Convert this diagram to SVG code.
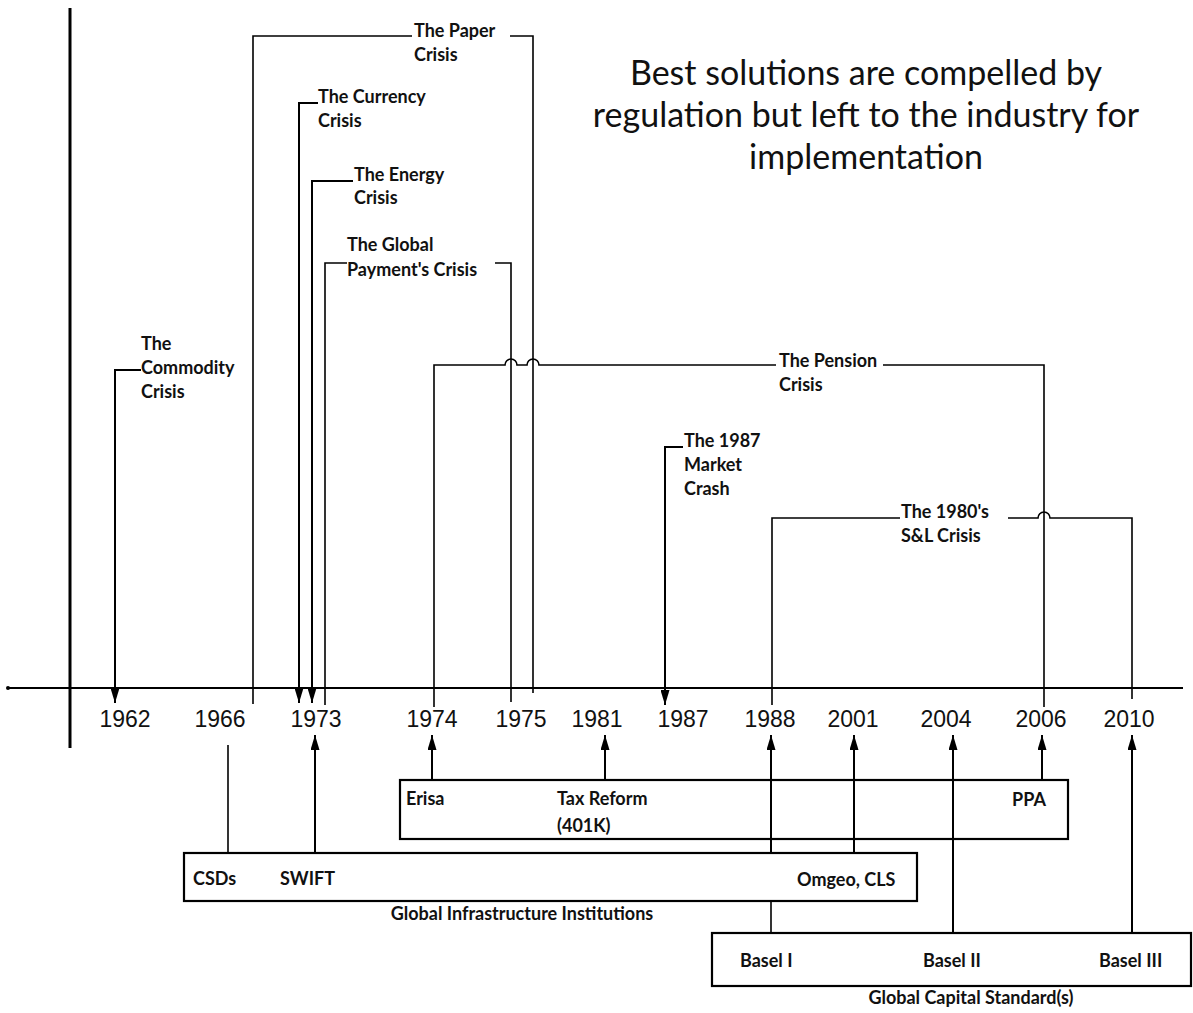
<svg xmlns="http://www.w3.org/2000/svg" width="1193" height="1013" viewBox="0 0 1193 1013">
<defs>
<marker id="ah" viewBox="0 0 15 9" markerWidth="15" markerHeight="9" refX="15" refY="4.5" orient="auto" markerUnits="userSpaceOnUse"><path d="M0,0 L15,4.5 L0,9 z" fill="#000"/></marker>
</defs>
<style>
.lbl{font-family:Lato,"Noto Sans","Liberation Sans",sans-serif;font-weight:bold;font-size:18px;fill:#111}
.cap{font-family:Lato,"Noto Sans","Liberation Sans",sans-serif;font-weight:bold;font-size:18px;fill:#111;text-anchor:middle}
.yr{font-family:"Liberation Sans",Arial,sans-serif;font-size:23px;fill:#111;text-anchor:middle}
.ttl{font-family:Lato,"Noto Sans","Liberation Sans",sans-serif;font-size:34px;fill:#111;text-anchor:middle}
.ln{stroke:#000;stroke-width:1.6;fill:none}
.ar{stroke:#000;stroke-width:2;fill:none;marker-end:url(#ah)}
.box{fill:none;stroke:#000;stroke-width:2.2}
</style>
<rect width="1193" height="1013" fill="#fff"/>

<g id="title">
<text class="ttl" x="866" y="85">Best solutions are compelled by</text>
<text class="ttl" x="866" y="127">regulation but left to the industry for</text>
<text class="ttl" x="866" y="169">implementation</text>
</g>

<g id="axis">
<path d="M70,8 V748" stroke="#000" stroke-width="3" fill="none"/>
<path d="M8,688 H1183" stroke="#000" stroke-width="2" fill="none"/>
<circle cx="8" cy="688" r="2" fill="#000"/>
</g>

<g id="years">
<text class="yr" x="125" y="727">1962</text>
<text class="yr" x="220" y="727">1966</text>
<text class="yr" x="316" y="727">1973</text>
<text class="yr" x="432" y="727">1974</text>
<text class="yr" x="521" y="727">1975</text>
<text class="yr" x="597" y="727">1981</text>
<text class="yr" x="683" y="727">1987</text>
<text class="yr" x="770" y="727">1988</text>
<text class="yr" x="853" y="727">2001</text>
<text class="yr" x="946" y="727">2004</text>
<text class="yr" x="1041" y="727">2006</text>
<text class="yr" x="1129" y="727">2010</text>
</g>

<g id="commodity-crisis">
<text class="lbl" x="141" y="350">The</text>
<text class="lbl" x="141" y="374">Commodity</text>
<text class="lbl" x="141" y="398">Crisis</text>
</g>
<g id="paper-crisis">
<text class="lbl" x="414" y="37">The Paper</text>
<text class="lbl" x="414" y="61">Crisis</text>
</g>
<g id="currency-crisis">
<text class="lbl" x="318" y="103">The Currency</text>
<text class="lbl" x="318" y="127">Crisis</text>
</g>
<g id="energy-crisis">
<text class="lbl" x="354" y="181">The Energy</text>
<text class="lbl" x="354" y="204">Crisis</text>
</g>
<g id="global-payments-crisis">
<text class="lbl" x="347" y="251">The Global</text>
<text class="lbl" x="347" y="276">Payment's Crisis</text>
</g>
<g id="pension-crisis">
<text class="lbl" x="779" y="367">The Pension</text>
<text class="lbl" x="779" y="391">Crisis</text>
</g>
<g id="market-crash-1987">
<text class="lbl" x="684" y="447">The 1987</text>
<text class="lbl" x="684" y="471">Market</text>
<text class="lbl" x="684" y="495">Crash</text>
</g>
<g id="sl-crisis">
<text class="lbl" x="901" y="518">The 1980's</text>
<text class="lbl" x="901" y="542">S&amp;L Crisis</text>
</g>

<g id="us-regulation">
<rect class="box" x="400" y="780" width="668" height="59"/>
<text class="lbl" x="406" y="805">Erisa</text>
<text class="lbl" x="557" y="805">Tax Reform</text>
<text class="lbl" x="557" y="832">(401K)</text>
<text class="lbl" x="1012" y="806">PPA</text>
</g>
<g id="global-infrastructure">
<rect class="box" x="184" y="853" width="733" height="48"/>
<text class="lbl" x="193" y="885">CSDs</text>
<text class="lbl" x="280" y="885">SWIFT</text>
<text class="lbl" x="797" y="886">Omgeo, CLS</text>
<text class="cap" x="522" y="920">Global Infrastructure Institutions</text>
</g>
<g id="global-capital">
<rect class="box" x="712" y="933" width="479" height="53"/>
<text class="lbl" x="740" y="967">Basel I</text>
<text class="lbl" x="923" y="967">Basel II</text>
<text class="lbl" x="1099" y="967">Basel III</text>
<text class="cap" x="971" y="1004">Global Capital Standard(s)</text>
</g>

<g id="connectors">
<path class="ar" d="M141,370 H115 V703"/>
<path class="ln" d="M412,36 H253 V704"/>
<path class="ln" d="M510,36 H533 V693"/>
<path class="ar" d="M318,103 H299 V703"/>
<path class="ar" d="M353,181 H312 V703"/>
<path class="ln" d="M347,263 H325 V705"/>
<path class="ln" d="M495,263 H511 V702"/>
<path class="ln" d="M434,707 V365 H505 a6,6 0 0 1 12,0 H527 a6,6 0 0 1 12,0 H776"/>
<path class="ln" d="M883,365 H1044 V707"/>
<path class="ar" d="M683,447 H665 V705"/>
<path class="ln" d="M900,518 H772 V705"/>
<path class="ln" d="M1008,518 H1038 a6,6 0 0 1 12,0 H1132 V699"/>
<path class="ln" d="M228,853 V745"/>
<path class="ar" d="M315,853 V735"/>
<path class="ar" d="M432,780 V735"/>
<path class="ar" d="M605,780 V735"/>
<path class="ar" d="M1042,780 V735"/>
<path class="ar" d="M771,853 V735"/>
<path class="ln" d="M771,901 V933"/>
<path class="ar" d="M854,853 V735"/>
<path class="ar" d="M953,933 V735"/>
<path class="ar" d="M1132,933 V735"/>
</g>
</svg>
